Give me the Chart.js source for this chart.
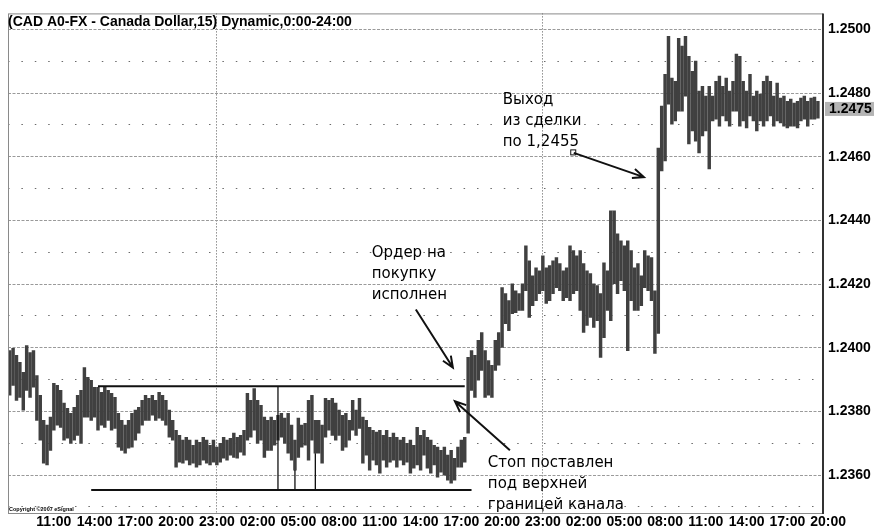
<!DOCTYPE html>
<html>
<head>
<meta charset="utf-8">
<script src="https://cdn.jsdelivr.net/npm/chart.js@4.4.1/dist/chart.umd.min.js"></script>
<style>
  body { margin: 0; background: #fff; }
  #wrap { width: 874px; height: 530px; }
</style>
</head>
<body>
<div id="wrap"><canvas id="cad"></canvas></div>
<script>
// 15 min bars, CAD A0-FX
var tickLabels = ['11:00', '14:00', '17:00', '20:00', '23:00', '02:00', '05:00', '08:00', '11:00', '14:00',
                  '17:00', '20:00', '23:00', '02:00', '05:00', '08:00', '11:00', '14:00', '17:00', '20:00'];
var firstLabelBar = 13;   // bar of the first "11:00"
var barsPerLabel = 12;    // 3 hours
var dayBreaks = [61, 157];
var priceLevels = [1.235, 1.236, 1.237, 1.238, 1.239, 1.240, 1.241, 1.242,
                   1.243, 1.244, 1.245, 1.246, 1.247, 1.248, 1.249, 1.250];

var barHighs = [
  1.23991, 1.23998, 1.23976, 1.23954, 1.23923, 1.24007, 1.23985, 1.23991, 1.23913, 1.23851,
  1.23772, 1.23757, 1.23782, 1.23888, 1.23882, 1.23866, 1.23826, 1.23810, 1.23794, 1.23813,
  1.23851, 1.23866, 1.23938, 1.23907, 1.23898, 1.23876, 1.23876, 1.23860, 1.23876, 1.23866,
  1.23857, 1.23844, 1.23794, 1.23772, 1.23757, 1.23772, 1.23794, 1.23804, 1.23813, 1.23835,
  1.23851, 1.23841, 1.23851, 1.23835, 1.23860, 1.23851, 1.23835, 1.23804, 1.23772, 1.23741,
  1.23725, 1.23710, 1.23719, 1.23710, 1.23694, 1.23710, 1.23703, 1.23719, 1.23710, 1.23694,
  1.23710, 1.23688, 1.23700, 1.23719, 1.23710, 1.23716, 1.23732, 1.23719, 1.23725, 1.23741,
  1.23857, 1.23835, 1.23872, 1.23835, 1.23819, 1.23782, 1.23772, 1.23782, 1.23772, 1.23788,
  1.23794, 1.23779, 1.23794, 1.23757, 1.23710, 1.23779, 1.23757, 1.23763, 1.23835, 1.23851,
  1.23772, 1.23772, 1.23757, 1.23841, 1.23835, 1.23841, 1.23826, 1.23804, 1.23788, 1.23794,
  1.23772, 1.23835, 1.23804, 1.23841, 1.23782, 1.23772, 1.23750, 1.23741, 1.23735, 1.23741,
  1.23725, 1.23741, 1.23719, 1.23732, 1.23719, 1.23710, 1.23719, 1.23700, 1.23710, 1.23694,
  1.23750, 1.23725, 1.23741, 1.23719, 1.23710, 1.23694, 1.23688, 1.23678, 1.23688, 1.23663,
  1.23678, 1.23653, 1.23688, 1.23710, 1.23719, 1.23970, 1.23991, 1.23976, 1.24023, 1.24048,
  1.23991, 1.23960, 1.23945, 1.24023, 1.24048, 1.24189, 1.24170, 1.24148, 1.24201, 1.24179,
  1.24170, 1.24201, 1.24320, 1.24273, 1.24226, 1.24251, 1.24242, 1.24289, 1.24251, 1.24258,
  1.24273, 1.24283, 1.24264, 1.24242, 1.24251, 1.24320, 1.24305, 1.24289, 1.24305, 1.24264,
  1.24242, 1.24233, 1.24201, 1.24195, 1.24170, 1.24267, 1.24242, 1.24430, 1.24430, 1.24358,
  1.24336, 1.24320, 1.24336, 1.24305, 1.24251, 1.24264, 1.24226, 1.24305, 1.24289, 1.24283,
  1.24179, 1.24627, 1.24759, 1.24859, 1.24978, 1.24847, 1.24837, 1.24972, 1.24947, 1.24978,
  1.24915, 1.24868, 1.24900, 1.24806, 1.24821, 1.24790, 1.24821, 1.24790, 1.24837, 1.24853,
  1.24821, 1.24847, 1.24806, 1.24837, 1.24922, 1.24915, 1.24837, 1.24806, 1.24859, 1.24790,
  1.24806, 1.24796, 1.24837, 1.24853, 1.24837, 1.24790, 1.24831, 1.24784, 1.24790, 1.24774,
  1.24781, 1.24768, 1.24774, 1.24784, 1.24790, 1.24774, 1.24784, 1.24787, 1.24774, null
];
var barLows = [
  1.23851, 1.23882, 1.23835, 1.23844, 1.23804, 1.23866, 1.23844, 1.23876, 1.23772, 1.23710,
  1.23638, 1.23632, 1.23678, 1.23741, 1.23757, 1.23750, 1.23710, 1.23716, 1.23700, 1.23710,
  1.23725, 1.23700, 1.23782, 1.23782, 1.23772, 1.23782, 1.23741, 1.23757, 1.23750, 1.23772,
  1.23741, 1.23747, 1.23688, 1.23678, 1.23669, 1.23685, 1.23688, 1.23710, 1.23732, 1.23757,
  1.23772, 1.23772, 1.23788, 1.23772, 1.23779, 1.23772, 1.23757, 1.23719, 1.23710, 1.23625,
  1.23641, 1.23638, 1.23647, 1.23632, 1.23638, 1.23625, 1.23632, 1.23647, 1.23638, 1.23632,
  1.23641, 1.23632, 1.23641, 1.23653, 1.23647, 1.23663, 1.23656, 1.23653, 1.23672, 1.23663,
  1.23710, 1.23719, 1.23741, 1.23700, 1.23710, 1.23656, 1.23678, 1.23678, 1.23694, 1.23710,
  1.23719, 1.23700, 1.23669, 1.23647, 1.23616, 1.23656, 1.23688, 1.23694, 1.23647, 1.23710,
  1.23669, 1.23669, 1.23638, 1.23719, 1.23741, 1.23725, 1.23710, 1.23725, 1.23678, 1.23688,
  1.23710, 1.23741, 1.23725, 1.23747, 1.23638, 1.23663, 1.23616, 1.23647, 1.23632, 1.23606,
  1.23647, 1.23625, 1.23641, 1.23647, 1.23625, 1.23647, 1.23632, 1.23641, 1.23606, 1.23622,
  1.23632, 1.23616, 1.23663, 1.23622, 1.23606, 1.23632, 1.23594, 1.23609, 1.23600, 1.23584,
  1.23575, 1.23584, 1.23625, 1.23625, 1.23641, 1.23732, 1.23866, 1.23844, 1.23898, 1.23929,
  1.23844, 1.23851, 1.23844, 1.23929, 1.23945, 1.24001, 1.24076, 1.24054, 1.24107, 1.24110,
  1.24117, 1.24117, 1.24179, 1.24095, 1.24132, 1.24148, 1.24170, 1.24179, 1.24139, 1.24148,
  1.24170, 1.24189, 1.24179, 1.24148, 1.24157, 1.24148, 1.24170, 1.24179, 1.24117, 1.24048,
  1.24070, 1.24095, 1.24064, 1.24085, 1.23970, 1.24032, 1.24117, 1.24085, 1.24201, 1.24170,
  1.24211, 1.24179, 1.23991, 1.24148, 1.24117, 1.24117, 1.24132, 1.24189, 1.24179, 1.24148,
  1.23982, 1.24045, 1.24555, 1.24587, 1.24765, 1.24702, 1.24712, 1.24743, 1.24743, 1.24790,
  1.24640, 1.24681, 1.24649, 1.24612, 1.24665, 1.24681, 1.24562, 1.24712, 1.24718, 1.24696,
  1.24728, 1.24712, 1.24696, 1.24743, 1.24743, 1.24696, 1.24712, 1.24690, 1.24728, 1.24712,
  1.24681, 1.24712, 1.24696, 1.24712, 1.24728, 1.24696, 1.24712, 1.24706, 1.24696, 1.24690,
  1.24696, 1.24696, 1.24690, 1.24712, 1.24718, 1.24696, 1.24718, 1.24718, 1.24721, null
];
var lastPrice = 1.2475;

// channel drawn on the chart
var channelTop = 1.23879;
var channelBottom = 1.23553;
var channelTopBars = [26, 134];
var channelBottomBars = [24, 136];
var channelMarks = [[79, 1.23879, 1.23553], [84, 1.23616, 1.23553], [90, 1.23669, 1.23553]];

var notes = [
  { lines: ['Выход', 'из сделки', 'по 1,2455'], bar: 145.2, price: 1.24765,
    from: [166.1, 1.24612], to: [186.75, 1.24536], box: true },
  { lines: ['Ордер на', 'покупку', 'исполнен'], bar: 106.6, price: 1.24285,
    from: [119.6, 1.24120], to: [130.5, 1.23938] },
  { lines: ['Стоп поставлен', 'под верхней', 'границей канала'], bar: 140.8, price: 1.23625,
    from: [147.3, 1.23678], to: [131.1, 1.23832] }
];

var bars = barLows.map(function (v, i) { return i; });
var ranges = barLows.map(function (lo, i) { return lo == null ? null : [lo, barHighs[i]]; });

function seg(points, width) {
  return {
    type: 'line',
    data: points,
    borderColor: '#111',
    borderWidth: width,
    pointRadius: 0,
    order: 1
  };
}

var lineSets = [
  seg([{ x: channelTopBars[0], y: channelTop }, { x: channelTopBars[1], y: channelTop }], 2),
  seg([{ x: channelBottomBars[0], y: channelBottom }, { x: channelBottomBars[1], y: channelBottom }], 2)
];
channelMarks.forEach(function (m) {
  lineSets.push(seg([{ x: m[0], y: m[1] }, { x: m[0], y: m[2] }], 1.3));
});

function isMajor(v) {
  return Math.round(v * 10000) % 20 === 0;
}

function drawArrow(ctx, x1, y1, x2, y2) {
  var a = Math.atan2(y2 - y1, x2 - x1), h = 12;
  ctx.beginPath();
  ctx.moveTo(x1, y1);
  ctx.lineTo(x2, y2);
  ctx.moveTo(x2 - h * Math.cos(a - 0.4), y2 - h * Math.sin(a - 0.4));
  ctx.lineTo(x2, y2);
  ctx.lineTo(x2 - h * Math.cos(a + 0.4), y2 - h * Math.sin(a + 0.4));
  ctx.stroke();
}

var extras = {
  id: 'extras',
  afterDatasetsDraw: function (chart) {
    var ctx = chart.ctx, x = chart.scales.x, y = chart.scales.y;
    ctx.save();
    ctx.fillStyle = '#000';
    ctx.strokeStyle = '#111';
    ctx.font = '15px "DejaVu Sans"';
    ctx.textAlign = 'left';
    ctx.textBaseline = 'alphabetic';
    notes.forEach(function (n) {
      var tx = x.getPixelForValue(n.bar), ty = y.getPixelForValue(n.price);
      n.lines.forEach(function (t, i) { ctx.fillText(t, tx, ty + i * 21); });
      var x1 = x.getPixelForValue(n.from[0]), y1 = y.getPixelForValue(n.from[1]);
      var x2 = x.getPixelForValue(n.to[0]), y2 = y.getPixelForValue(n.to[1]);
      ctx.lineWidth = 2;
      drawArrow(ctx, x1, y1, x2, y2);
      if (n.box) {
        ctx.lineWidth = 1;
        ctx.strokeRect(x1 - 3, y1 - 3, 5, 5);
      }
    });
    ctx.restore();
  },
  afterDraw: function (chart) {
    var ctx = chart.ctx, a = chart.chartArea, y = chart.scales.y;
    ctx.save();
    // frame
    ctx.strokeStyle = '#8a8a8a';
    ctx.lineWidth = 1;
    ctx.strokeRect(a.left + 0.5, a.top + 0.5, a.right - a.left - 1, a.bottom - a.top - 1);
    ctx.strokeStyle = '#333';
    ctx.lineWidth = 2;
    ctx.beginPath();
    ctx.moveTo(a.right, a.top);
    ctx.lineTo(a.right, a.bottom);
    ctx.stroke();
    // title
    ctx.fillStyle = '#000';
    ctx.font = 'bold 14px "Liberation Sans"';
    ctx.textAlign = 'left';
    ctx.textBaseline = 'alphabetic';
    ctx.fillText('(CAD A0-FX - Canada Dollar,15) Dynamic,0:00-24:00', a.left, a.top + 13);
    // copyright
    ctx.font = 'bold 5.5px "Liberation Sans"';
    ctx.fillText('Copyright ©2007 eSignal', a.left + 1, a.bottom - 3);
    // last price
    var py = y.getPixelForValue(lastPrice);
    ctx.fillStyle = '#b4b4b4';
    ctx.fillRect(a.right + 2, py - 7, chart.width - a.right - 2, 14);
    ctx.fillStyle = '#000';
    ctx.font = 'bold 14px "Liberation Sans"';
    ctx.textBaseline = 'middle';
    ctx.fillText(lastPrice.toFixed(4), a.right + 6, py);
    ctx.restore();
  }
};

new Chart(document.getElementById('cad'), {
  type: 'bar',
  data: {
    labels: bars,
    datasets: [{
      type: 'bar',
      data: ranges,
      backgroundColor: '#404040',
      barThickness: 2.8,
      order: 2
    }].concat(lineSets)
  },
  options: {
    responsive: true,
    maintainAspectRatio: false,
    animation: false,
    layout: { padding: { left: 8, top: 12, right: 0, bottom: 0 } },
    plugins: {
      legend: { display: false },
      tooltip: { enabled: false }
    },
    scales: {
      x: {
        offset: true,
        grid: {
          offset: false,
          drawTicks: false,
          lineWidth: 1,
          color: function (c) { return dayBreaks.indexOf(c.index) >= 0 ? '#555' : 'rgba(0,0,0,0)'; }
        },
        border: { display: false, dash: [1, 2] },
        ticks: {
          autoSkip: false,
          maxRotation: 0,
          padding: 0,
          labelOffset: 6.8,
          color: '#000',
          font: { family: 'Liberation Sans', weight: 'bold', size: 14 },
          callback: function (value, index) {
            var k = index + 2 - firstLabelBar;
            return k >= 0 && k % barsPerLabel === 0 ? tickLabels[k / barsPerLabel] : '';
          }
        },
        afterFit: function (s) { s.height = 16; }
      },
      y: {
        position: 'right',
        min: 1.23478,
        max: 1.25050,
        ticks: {
          padding: 5,
          color: '#000',
          font: { family: 'Liberation Sans', weight: 'bold', size: 14 },
          callback: function (v) { return isMajor(v) ? v.toFixed(4) : ''; }
        },
        afterBuildTicks: function (s) {
          s.ticks = priceLevels.map(function (v) { return { value: v }; });
        },
        grid: {
          drawTicks: false,
          lineWidth: 1,
          color: function (c) { return isMajor(c.tick.value) ? '#9a9a9a' : '#6a6a6a'; }
        },
        border: {
          display: false,
          dash: function (c) { return isMajor(c.tick.value) ? [3, 1.5] : [1.5, 11.9]; }
        },
        afterFit: function (s) { s.width = 51; }
      }
    }
  },
  plugins: [extras]
});
</script>
</body>
</html>
